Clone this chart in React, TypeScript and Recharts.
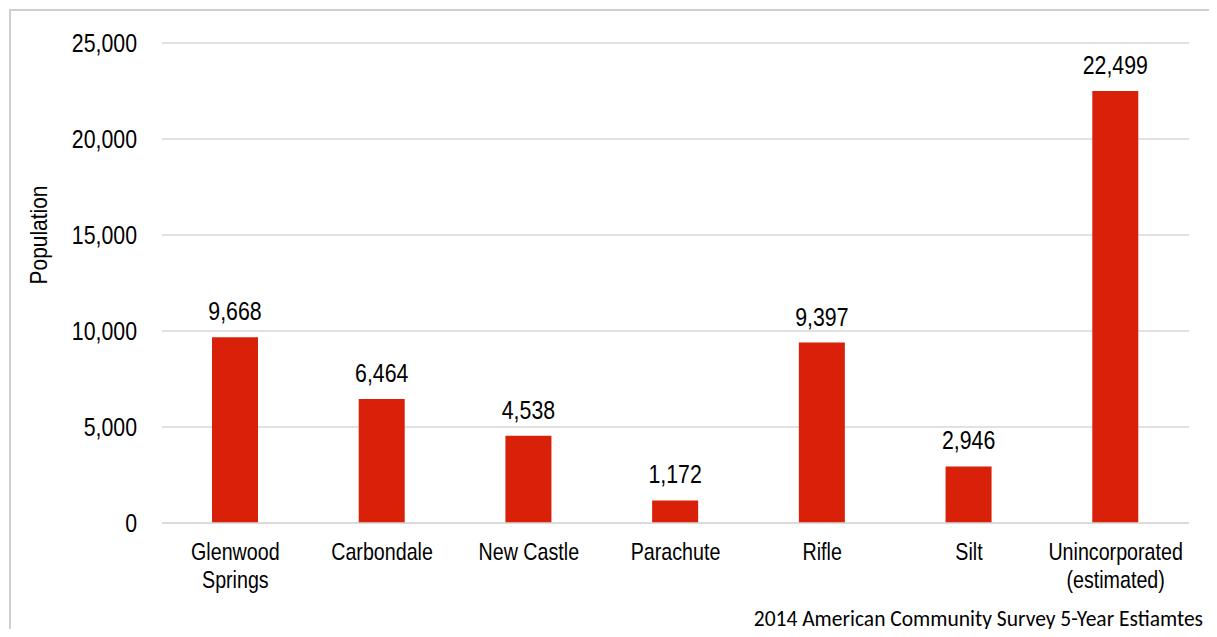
import React from 'react';
import { BarChart, Bar, XAxis, YAxis, CartesianGrid, LabelList } from 'recharts';

const categories = ['Glenwood Springs', 'Carbondale', 'New Castle', 'Parachute', 'Rifle', 'Silt', 'Unincorporated (estimated)'];
const categoryLines = [['Glenwood', 'Springs'], ['Carbondale'], ['New Castle'], ['Parachute'], ['Rifle'], ['Silt'], ['Unincorporated', '(estimated)']];
const population = [9668, 6464, 4538, 1172, 9397, 2946, 22499];
const yTicks = [0, 5000, 10000, 15000, 20000, 25000];
const yLabel = 'Population';
const sourceNote = '2014 American Community Survey 5-Year Estiamtes';

const data = categories.map((c, i) => ({ name: c, value: population[i] }));

const FONT = '"Liberation Sans", Arial, sans-serif';
const SX = 0.82;
const fmt = (v: number) => v.toLocaleString('en-US');

const XTick = (props: any) => {
  const { x, y, index } = props;
  const lines = categoryLines[index] || [String(props.payload.value)];
  return (
    <g transform={`translate(${x},${y}) scale(${SX},1)`}>
      <text x={0} y={0} textAnchor="middle" fill="#000" fontSize={24} fontFamily={FONT}>
        {lines.map((l, i) => (
          <tspan key={i} x={0} dy={i === 0 ? 29 : 28}>{l}</tspan>
        ))}
      </text>
    </g>
  );
};

const YTick = (props: any) => {
  const { x, y, payload } = props;
  return (
    <g transform={`translate(${x},${y}) scale(${SX},1)`}>
      <text x={0} y={0} dy={9} textAnchor="end" fill="#000" fontSize={26} fontFamily={FONT}>
        {fmt(payload.value)}
      </text>
    </g>
  );
};

const YLabel = () => (
  <g transform={`translate(39,235) rotate(-90) scale(0.89,1)`}>
    <text x={0} y={0} dy={8} textAnchor="middle" fill="#000" fontSize={23.5} fontFamily={FONT}>{yLabel}</text>
  </g>
);

const ValueLabel = (props: any) => {
  const { x, y, width, value } = props;
  const cx = x + width / 2;
  return (
    <g transform={`translate(${cx},${y - 17}) scale(${SX},1)`}>
      <text x={0} y={0} textAnchor="middle" fill="#000" fontSize={26} fontFamily={FONT}>{fmt(value)}</text>
    </g>
  );
};

export default function App() {
  return (
    <div style={{ position: 'relative', width: 1217, height: 637, margin: -8, background: '#fff', overflow: 'hidden' }}>
      <div style={{ position: 'absolute', left: 9, top: 9, width: 1300, height: 700, borderLeft: '2px solid #d3cec7', borderTop: '2px solid #d3cec7' }} />
      <div style={{ position: 'absolute', left: 0, top: 0 }}>
        <BarChart width={1217} height={637} data={data} margin={{ top: 43, right: 28, bottom: 0, left: 0 }}>
          <CartesianGrid vertical={false} stroke="#d9d9d9" strokeWidth={1.5} />
          <XAxis dataKey="name" axisLine={{ stroke: '#d9d9d9', strokeWidth: 1.5 }} tickLine={false} tick={<XTick />} interval={0} height={114} />
          <YAxis
            width={162}
            domain={[0, 25000]}
            ticks={yTicks}
            axisLine={false}
            tickLine={false}
            tickSize={0}
            tickMargin={25}
            tick={<YTick />}
            label={<YLabel />}
          />
          <Bar dataKey="value" fill="#d92008" barSize={46} isAnimationActive={false}>
            <LabelList dataKey="value" content={<ValueLabel />} />
          </Bar>
        </BarChart>
      </div>
      <div style={{ position: 'absolute', right: 14, top: 606, fontFamily: 'Carlito, Lato, "Open Sans", sans-serif', fontSize: 21.5, lineHeight: '26px', color: '#000', whiteSpace: 'nowrap' }}>
        {sourceNote}
      </div>
    </div>
  );
}
